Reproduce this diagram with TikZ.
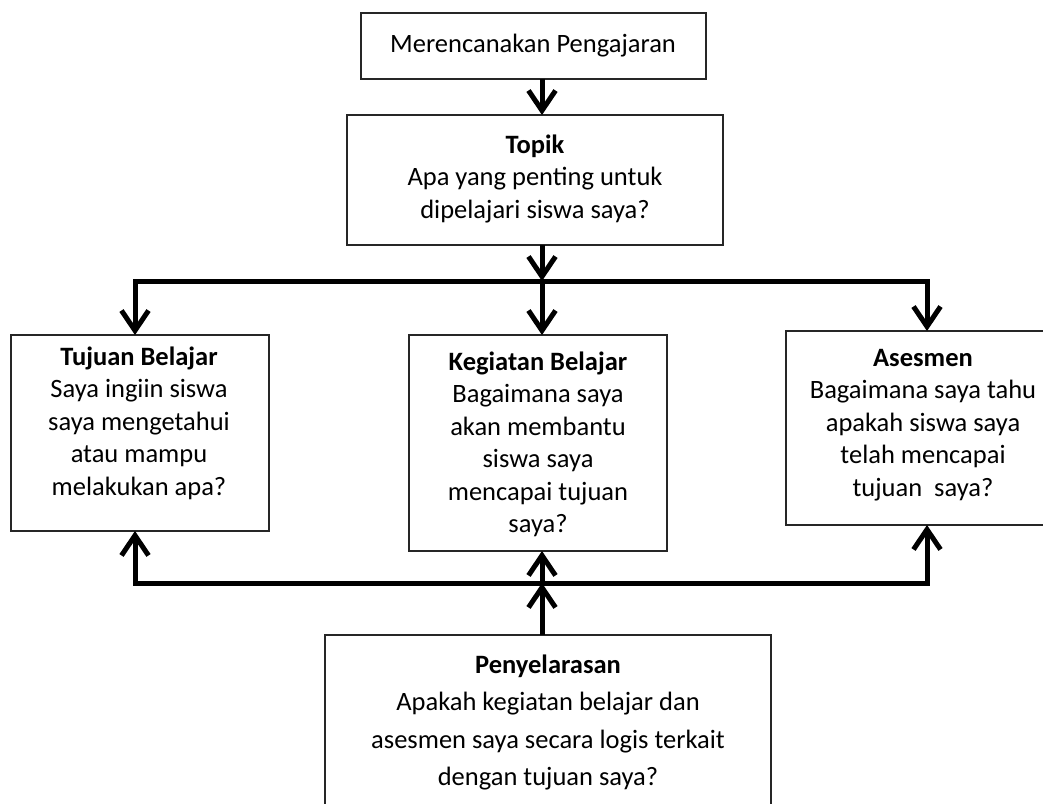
\documentclass[tikz,border=0pt]{standalone}
\usepackage{fontspec}
\setmainfont{Carlito}
\usetikzlibrary{arrows.meta}
\tikzset{
  boxnode/.style={draw=black!85, line width=1.3pt, inner sep=0pt, outer sep=0pt},
  txt/.style={align=center, inner sep=0pt, anchor=north, font=\fontsize{26.5}{32.5}\selectfont},
  txtwide/.style={txt, font=\fontsize{26.5}{37.5}\selectfont},
  conn/.style={line width=5pt, line join=miter, -{Straight Barb[length=20pt,width=27pt]}},
}
\newcommand{\fl}{\rule{0pt}{25pt}}
\begin{document}
\begin{tikzpicture}[x=1pt,y=-1pt]
\useasboundingbox (0,0) rectangle (1043,803);
% boxes
\node[boxnode, minimum width=345pt, minimum height=66pt] (top) at (533.5,46) {};
\node[boxnode, minimum width=376pt, minimum height=130pt] (topik) at (535,180) {};
\node[boxnode, minimum width=258pt, minimum height=196pt] (tuj) at (140,433) {};
\node[boxnode, minimum width=258pt, minimum height=216pt] (keg) at (538,443) {};
\node[boxnode, minimum width=274pt, minimum height=194pt] (ases) at (923,428) {};
\node[boxnode, minimum width=446pt, minimum height=200pt] (peny) at (548,735) {};
% texts
\node[txt] (ttop) at (533,27) {\fl Merencanakan Pengajaran};
\node[txt] (ttopik) at (535,128) {\fl\textbf{Topik}\\Apa yang penting untuk\\dipelajari siswa saya?};
\node[txt] (ttuj) at (139,340) {\fl\textbf{Tujuan Belajar}\\Saya ingiin siswa\\saya mengetahui\\atau mampu\\melakukan apa?};
\node[txt] (tkeg) at (538,345) {\fl\textbf{Kegiatan Belajar}\\Bagaimana saya\\akan membantu\\siswa saya\\mencapai tujuan\\saya?};
\node[txt] (tases) at (923,341) {\fl\textbf{Asesmen}\\Bagaimana saya tahu\\apakah siswa saya\\telah mencapai\\tujuan~ saya?};
\node[txtwide] (tpeny) at (548,648) {\fl\textbf{Penyelarasan}\\Apakah kegiatan belajar dan\\asesmen saya secara logis terkait\\dengan tujuan saya?};
% junction coordinates
\coordinate (jt) at (542,281);
\coordinate (tl) at (135,281);
\coordinate (tr) at (927,281);
\coordinate (jb) at (542,583);
\coordinate (bl) at (135,583);
\coordinate (br) at (927,583);
% connectors
\draw[conn] (top.south -| jt) -- (topik.north -| jt);
\draw[conn] (topik.south -| jt) -- (jt);
\draw[conn] (jt) -| (tuj.north -| tl);
\draw[conn] (jt) -| (ases.north -| tr);
\draw[conn] (jt) -- (keg.north -| jt);
\draw[conn] (peny.north -| jb) -- (jb);
\draw[conn] (jb) -| (tuj.south -| bl);
\draw[conn] (jb) -| (ases.south -| br);
\draw[conn] (jb) -- (keg.south -| jb);
\end{tikzpicture}
\end{document}
